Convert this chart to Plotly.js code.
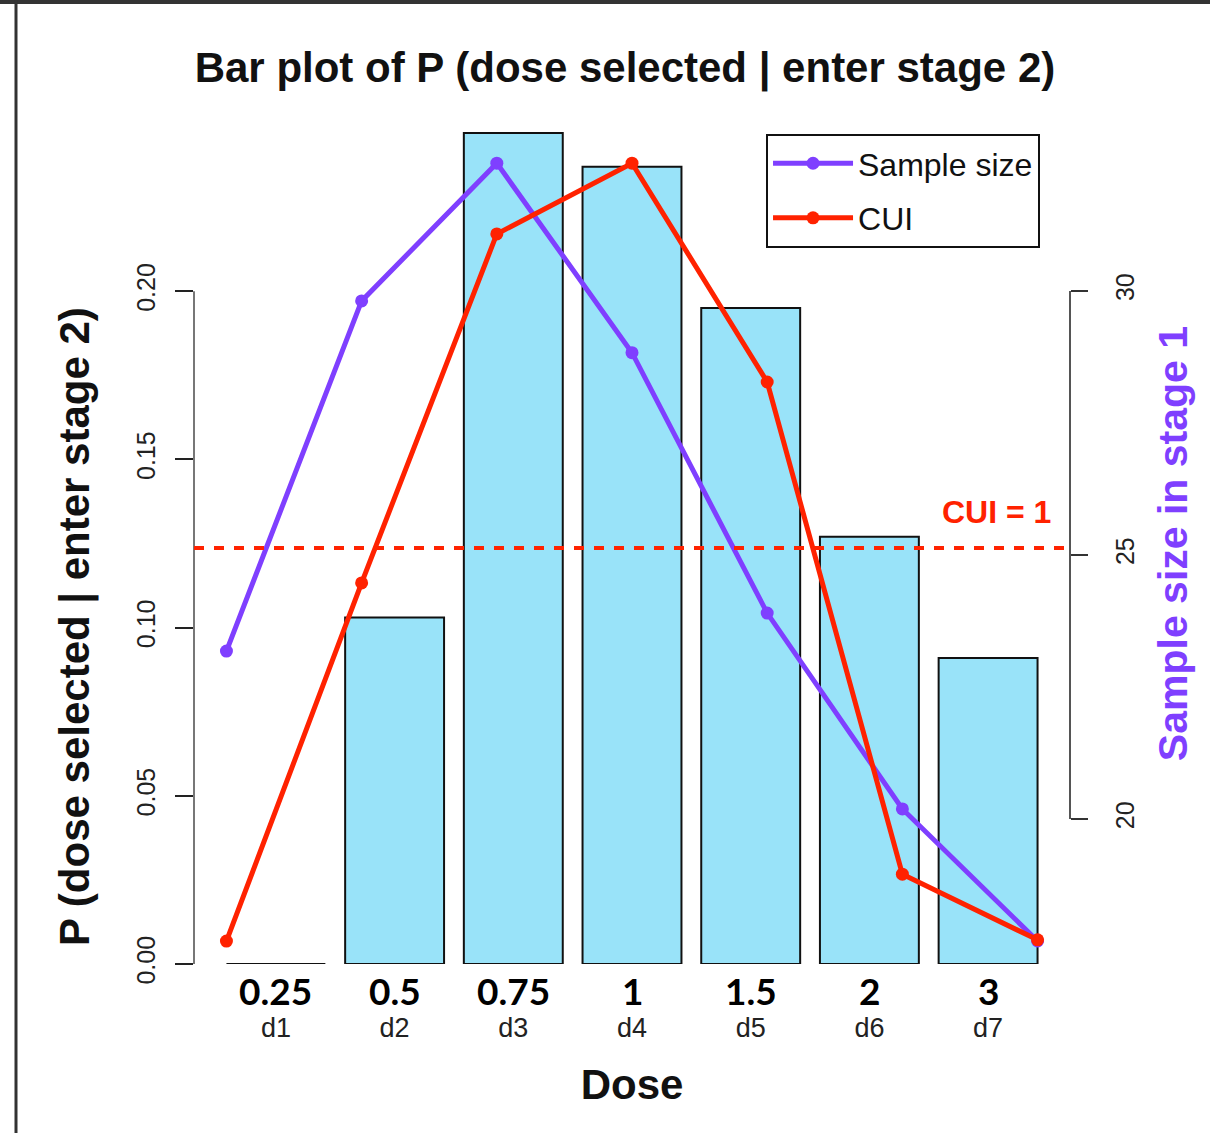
<!DOCTYPE html>
<html>
<head>
<meta charset="utf-8">
<script src="https://cdn.plot.ly/plotly-3.0.1.min.js"></script>
<style>html,body{margin:0;padding:0;background:#fff;}#chart{width:1210px;height:1133px;}</style>
</head>
<body>
<div id="chart"></div>
<script>
// ---- data ----
const doseIds = ['d1', 'd2', 'd3', 'd4', 'd5', 'd6', 'd7'];
const doseLabels = ['0.25', '0.5', '0.75', '1', '1.5', '2', '3'];
const pSelected = [0, 0.103, 0.247, 0.237, 0.195, 0.127, 0.091];
const sampleSize = [23.18, 29.81, 32.42, 28.83, 23.90, 20.19, 17.69];
const cui = [0.055, 0.916, 1.755, 1.925, 1.399, 0.216, 0.058];
const cuiReference = 1;
const leftTicks = [0, 0.05, 0.10, 0.15, 0.20];
const rightTicks = [20, 25, 30];

const NARROW = '"Liberation Sans Narrow", "Liberation Sans", Arial, sans-serif';
const PURPLE = '#7F3FFF';
const RED = '#FF2200';

const traces = [
  {
    type: 'bar', x: doseIds, y: pSelected, xaxis: 'x', yaxis: 'y',
    marker: {color: '#99E3F9', line: {color: '#111', width: 2}},
    showlegend: false, hoverinfo: 'x+y'
  },
  {
    type: 'scatter', mode: 'lines+markers', name: 'CUI',
    x: doseIds, y: cui, xaxis: 'x2', yaxis: 'y3',
    line: {color: RED, width: 5}, marker: {color: RED, size: 13},
    legendrank: 2, legendgroup: 'cui'
  },
  {
    type: 'scatter', mode: 'lines+markers', name: 'Sample size',
    x: doseIds, y: sampleSize, xaxis: 'x2', yaxis: 'y2',
    line: {color: PURPLE, width: 5}, marker: {color: PURPLE, size: 13},
    legendrank: 1, legendgroup: 'ss'
  }
];

const annotations = doseLabels.map((t, i) => ({
  text: '<b>' + t + '</b>', x: doseIds[i], xref: 'x', y: -0.031, yref: 'paper',
  xanchor: 'center', yanchor: 'middle', showarrow: false,
  font: {family: 'Lato, "Open Sans", sans-serif', size: 37, color: '#000'}
}));
annotations.push({
  text: '<b>CUI = ' + cuiReference + '</b>', x: 0.9806, xref: 'paper', xanchor: 'right',
  y: cuiReference, yref: 'y3', yanchor: 'bottom', yshift: 16, showarrow: false,
  font: {family: NARROW, size: 32, color: RED}
});
annotations.push({
  text: '<b>P (dose selected | enter stage 2)</b>', textangle: -90,
  x: -0.1358, xref: 'paper', xanchor: 'center', y: 0.4007, yref: 'paper', yanchor: 'middle',
  showarrow: false, font: {family: NARROW, size: 42, color: '#111'}
});

const shapes = [
  // left axis line (0 to 0.20)
  {type: 'line', xref: 'paper', x0: 0, x1: 0, yref: 'y', y0: 0, y1: 0.2, line: {color: '#777', width: 2}},
  // right axis line (20 to 30)
  {type: 'line', xref: 'paper', x0: 1, x1: 1, yref: 'y2', y0: 20, y1: 30, line: {color: '#555', width: 2}},
  // CUI = 1 reference line
  {type: 'line', xref: 'paper', x0: 0, x1: 1, yref: 'y3', y0: cuiReference, y1: cuiReference,
   line: {color: RED, width: 4, dash: '10px,10px'}},
  // frame of the picture (top and left edges)
  {type: 'line', xref: 'paper', x0: -0.25, x1: 1.2, yref: 'paper', y0: 1.1439, y1: 1.1439, line: {color: '#333', width: 4}},
  {type: 'line', xref: 'paper', x0: -0.2032, x1: -0.2032, yref: 'paper', y0: 1.16, y1: -0.25, line: {color: '#333', width: 3}}
];

const layout = {
  width: 1210, height: 1133,
  margin: {l: 194, r: 140, t: 123, b: 169, autoexpand: false},
  paper_bgcolor: '#fff', plot_bgcolor: 'rgba(0,0,0,0)',
  showlegend: true,
  title: {
    text: '<b>Bar plot of P (dose selected | enter stage 2)</b>',
    x: 0.5165, xanchor: 'center', xref: 'container', y: 0.941, yanchor: 'middle', yref: 'container',
    font: {family: NARROW, size: 42, color: '#111'}
  },
  bargap: 0.1667,
  xaxis: {
    type: 'category', categoryorder: 'array', categoryarray: doseIds,
    range: [-0.69, 6.69], showgrid: false, zeroline: false, showline: false, ticks: '',
    tickfont: {family: NARROW, size: 27, color: '#222'}, ticklabelstandoff: 45,
    title: {text: '<b>Dose</b>', font: {family: NARROW, size: 42, color: '#111'}, standoff: 27},
    fixedrange: true
  },
  xaxis2: {
    type: 'category', categoryorder: 'array', categoryarray: doseIds, overlaying: 'x',
    range: [-0.24, 6.24], visible: false, fixedrange: true
  },
  yaxis: {
    range: [0, 0.25], tickvals: leftTicks, tickformat: '.2f', tickangle: -90,
    showgrid: false, zeroline: false, showline: false,
    ticks: 'outside', ticklen: 18, tickwidth: 2, tickcolor: '#222',
    tickfont: {family: NARROW, size: 25, color: '#222'}, ticklabelstandoff: 10,
    fixedrange: true
  },
  yaxis2: {
    overlaying: 'y', side: 'right', range: [17.254, 33.18], tickvals: rightTicks, tickangle: -90,
    showgrid: false, zeroline: false, showline: false,
    ticks: 'outside', ticklen: 17, tickwidth: 2, tickcolor: '#333',
    tickfont: {family: NARROW, size: 25, color: '#222'}, ticklabelstandoff: 16,
    title: {text: '<b>Sample size in stage 1</b>', font: {family: NARROW, size: 41, color: PURPLE}, standoff: 20},
    fixedrange: true
  },
  yaxis3: {overlaying: 'y', range: [0, 2.0216], visible: false, fixedrange: true},
  legend: {
    x: 0.653, xanchor: 'left', y: 0.987, yanchor: 'top',
    bgcolor: '#fff', bordercolor: '#111', borderwidth: 2,
    font: {family: NARROW, size: 32, color: '#111'},
    itemwidth: 80, tracegroupgap: 10, traceorder: 'grouped'
  },
  annotations: annotations,
  shapes: shapes
};

Plotly.newPlot('chart', traces, layout, {displayModeBar: false, staticPlot: true});
</script>
</body>
</html>
